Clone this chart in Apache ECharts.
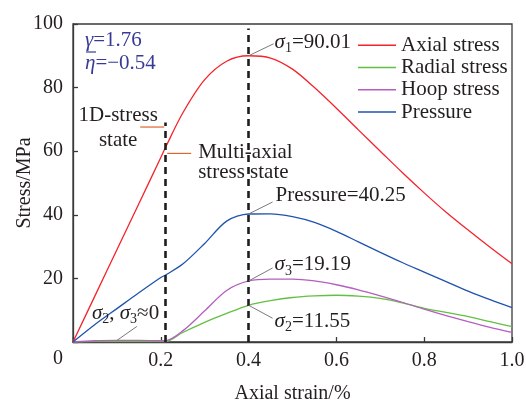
<!DOCTYPE html>
<html>
<head>
<meta charset="utf-8">
<script src="https://cdn.jsdelivr.net/npm/echarts@6/dist/echarts.min.js"></script>
<style>
  html, body { margin: 0; padding: 0; background: #fff; }
  #chart { width: 526px; height: 401px; }
</style>
</head>
<body>
<div id="chart"></div>
<script>
// Axial strain (%) sample points shared by all curves
const strain = [0, 0.05, 0.1, 0.15, 0.2, 0.21, 0.25, 0.3, 0.35, 0.4, 0.45, 0.5,
                0.55, 0.6, 0.65, 0.7, 0.75, 0.8, 0.85, 0.9, 0.95, 1.0];
// Stresses (MPa)
const axialStress  = [0, 14.5, 29, 43.5, 58, 61, 72, 82.5, 88.3, 90.01, 89.3, 85.8,
                      80.0, 73.5, 66.7, 60.0, 53.3, 46.9, 40.8, 35.2, 29.8, 24.6];
const radialStress = [0, 0.1, 0.15, 0.15, 0.1, 0.1, 3.0, 6.2, 9.0, 11.55, 13.0, 14.0,
                      14.5, 14.7, 14.4, 13.7, 12.3, 10.6, 9.3, 8.0, 6.4, 4.8];
const hoopStress   = [0, 0.4, 0.5, 0.5, 0.4, 0.4, 3.5, 9.8, 16.2, 19.19, 19.8, 19.8,
                      19.2, 18.0, 16.4, 14.5, 12.5, 10.3, 8.3, 6.4, 4.6, 3.0];
const pressure     = [0, 5.5, 10.5, 15.5, 20.3, 21.0, 24.5, 31, 38, 40.25, 40.3, 39.4,
                      37.6, 34.8, 31.5, 28.2, 25, 22, 19, 16, 13.3, 10.8];

const seriesNames = ['Axial stress', 'Radial stress', 'Hoop stress', 'Pressure'];
const seriesColors = ['#f5232b', '#62c043', '#b45fc0', '#1f53ae'];

// Axis ticks
const xTicks = [0, 0.2, 0.4, 0.6, 0.8, 1.0];
const yTicks = [0, 20, 40, 60, 80, 100];

// Transition strains marked by dashed lines
const strain1D = 0.21;
const strainPeak = 0.4;

const FONT = '"Liberation Serif","Times New Roman",serif';
const INK = '#231f20';
const PARAM_BLUE = '#383b96';

const chart = echarts.init(document.getElementById('chart'), null, { renderer: 'canvas' });
const pairs = ys => strain.map((x, i) => [x, ys[i]]);
const allSeries = [axialStress, radialStress, hoopStress, pressure];

chart.setOption({
  animation: false,
  backgroundColor: '#fff',
  grid: { left: 73, right: 14, top: 24, bottom: 59, show: true,
          outerBoundsMode: 'none', containLabel: false,
          borderColor: '#3a3a3a', borderWidth: 1.3, backgroundColor: 'transparent' },
  legend: {
    data: seriesNames,
    orient: 'vertical',
    left: 353, top: 29,
    itemWidth: 38, itemHeight: 1.5, itemGap: 0,
    icon: 'rect',
    textStyle: { fontFamily: FONT, fontSize: 21, color: INK, lineHeight: 22.3 }
  },
  xAxis: {
    type: 'value',
    min: xTicks[0], max: xTicks[xTicks.length - 1], interval: 0.2,
    name: 'Axial strain/%', nameLocation: 'middle', nameGap: 42,
    nameMoveOverlap: false,
    nameTextStyle: { fontFamily: FONT, fontSize: 20, color: INK },
    axisLine: { lineStyle: { color: '#3a3a3a', width: 1.3 } },
    axisTick: { inside: true, length: 5, lineStyle: { color: '#3a3a3a', width: 1.3 } },
    axisLabel: { fontFamily: FONT, fontSize: 20, color: INK, margin: 9,
                 showMaxLabel: true,
                 formatter: v => (v === 0 ? '' : v.toFixed(1)) },
    splitLine: { show: false }
  },
  yAxis: {
    type: 'value',
    min: yTicks[0], max: yTicks[yTicks.length - 1], interval: 20,
    name: 'Stress/MPa', nameLocation: 'middle', nameGap: 38,
    nameMoveOverlap: false,
    nameTextStyle: { fontFamily: FONT, fontSize: 20, color: INK },
    axisLine: { show: true, lineStyle: { color: '#3a3a3a', width: 1.3 } },
    axisTick: { show: true, inside: true, length: 5, lineStyle: { color: '#3a3a3a', width: 1.3 } },
    axisLabel: { fontFamily: FONT, fontSize: 20, color: INK, margin: 10,
                 formatter: v => (v === 0 ? '' : String(v)) },
    splitLine: { show: false }
  },
  series: seriesNames.map((name, k) => ({
    name,
    type: 'line',
    data: pairs(allSeries[k]),
    smooth: 0.3,
    symbol: 'none',
    color: seriesColors[k],
    lineStyle: { color: seriesColors[k], width: 1.3 },
    z: 3,
    markLine: k === 0 ? {
      silent: true,
      symbol: 'none',
      label: { show: false },
      lineStyle: { type: [7, 5], color: '#1e1e1e', width: 2.6 },
      data: [
        [{ coord: [strain1D, 0] }, { coord: [strain1D, 69] }],
        [{ coord: [strainPeak, 0] }, { coord: [strainPeak, 98.6] }]
      ]
    } : undefined
  }))
});

// ---- annotations ----
const px = (x, y) => chart.convertToPixel({ gridIndex: 0 }, [x, y]);
const peakIdx = strain.indexOf(strainPeak);
const lowIdx = strain.indexOf(0.1);

const rich = {
  n: { fontFamily: FONT, fontSize: 21, fill: INK, lineHeight: 26 },
  i: { fontFamily: FONT, fontSize: 21, fontStyle: 'italic', fill: INK, lineHeight: 26 },
  s: { fontFamily: FONT, fontSize: 14, fill: INK, verticalAlign: 'bottom', lineHeight: 14 }
};
const blueRich = {
  n: { fontFamily: FONT, fontSize: 21, fill: PARAM_BLUE, lineHeight: 24 },
  i: { fontFamily: FONT, fontSize: 21, fontStyle: 'italic', fill: PARAM_BLUE, lineHeight: 24 }
};

const graphics = [];
function leader(p, dx, dy, color) {
  graphics.push({ type: 'line', z: 20, silent: true,
    shape: { x1: p[0], y1: p[1], x2: p[0] + dx, y2: p[1] + dy },
    style: { stroke: color || '#7a7a7a', lineWidth: 1 } });
}
function label(x, y, text, r, align) {
  graphics.push({ type: 'text', z: 20, silent: true, x, y,
    style: { text, rich: r || rich, align: align || 'left', verticalAlign: 'middle',
             fontFamily: FONT, fontSize: 21, fill: INK } });
}

// peak annotations at the peak strain
const aP = px(strainPeak, axialStress[peakIdx]);
leader(aP, 25, -12);
label(aP[0] + 26, aP[1] - 13, '{i|σ}{s|1}{n|=' + axialStress[peakIdx].toFixed(2) + '}');

const pP = px(strainPeak, pressure[peakIdx]);
leader(pP, 24, -12);
label(pP[0] + 27, pP[1] - 19, '{n|Pressure=' + pressure[peakIdx].toFixed(2) + '}');

const hP = px(strainPeak, hoopStress[peakIdx]);
leader(hP, 24, -13);
label(hP[0] + 26, hP[1] - 16, '{i|σ}{s|3}{n|=' + hoopStress[peakIdx].toFixed(2) + '}');

const rP = px(strainPeak, radialStress[peakIdx]);
leader(rP, 24, 13);
label(rP[0] + 26, rP[1] + 16, '{i|σ}{s|2}{n|=' + radialStress[peakIdx].toFixed(2) + '}');

// near-zero lateral stresses before the transition
const zP = px(strain[lowIdx], hoopStress[lowIdx]);
leader(zP, 20, -14);
label(zP[0] - 25, zP[1] - 27, '{i|σ}{s|2}{n|, }{i|σ}{s|3}{n|≈0}');

// stress-state labels beside the 1D/multi-axial transition
const tA = px(strain1D, 67.6);
graphics.push({ type: 'line', z: 20, silent: true,
  shape: { x1: tA[0] - 25, y1: tA[1], x2: tA[0] - 1, y2: tA[1] },
  style: { stroke: '#e0642c', lineWidth: 1.2 } });
graphics.push({ type: 'text', z: 20, silent: true, x: tA[0] - 47, y: tA[1] + 1,
  style: { text: '1D-stress\nstate', align: 'center', verticalAlign: 'middle',
           fontFamily: FONT, fontSize: 21, lineHeight: 25, fill: INK } });

const tB = px(strain1D, 59.3);
graphics.push({ type: 'line', z: 20, silent: true,
  shape: { x1: tB[0] + 2, y1: tB[1], x2: tB[0] + 26, y2: tB[1] },
  style: { stroke: '#e0642c', lineWidth: 1.2 } });
graphics.push({ type: 'text', z: 2, silent: true, x: tB[0] + 33, y: tB[1] + 9,
  style: { text: 'Multi-axial\nstress state', align: 'left', verticalAlign: 'middle',
           fontFamily: FONT, fontSize: 21, lineHeight: 20, fill: INK } });

// material parameters
graphics.push({ type: 'text', z: 20, silent: true, x: 85, y: 40,
  style: { text: '{i|γ}{n|=1.76}', rich: blueRich, align: 'left', verticalAlign: 'middle' } });
graphics.push({ type: 'text', z: 20, silent: true, x: 85, y: 63,
  style: { text: '{i|η}{n|=\u22120.54}', rich: blueRich, align: 'left', verticalAlign: 'middle' } });
graphics.push({ type: 'line', z: 20, silent: true,
  shape: { x1: 86, y1: 52, x2: 96, y2: 52 },
  style: { stroke: PARAM_BLUE, lineWidth: 1.2 } });

// shared origin label
graphics.push({ type: 'text', z: 20, silent: true, x: 58, y: 359,
  style: { text: '0', align: 'center', verticalAlign: 'middle',
           fontFamily: FONT, fontSize: 20, fill: INK } });

chart.setOption({ graphic: graphics });
</script>
</body>
</html>
